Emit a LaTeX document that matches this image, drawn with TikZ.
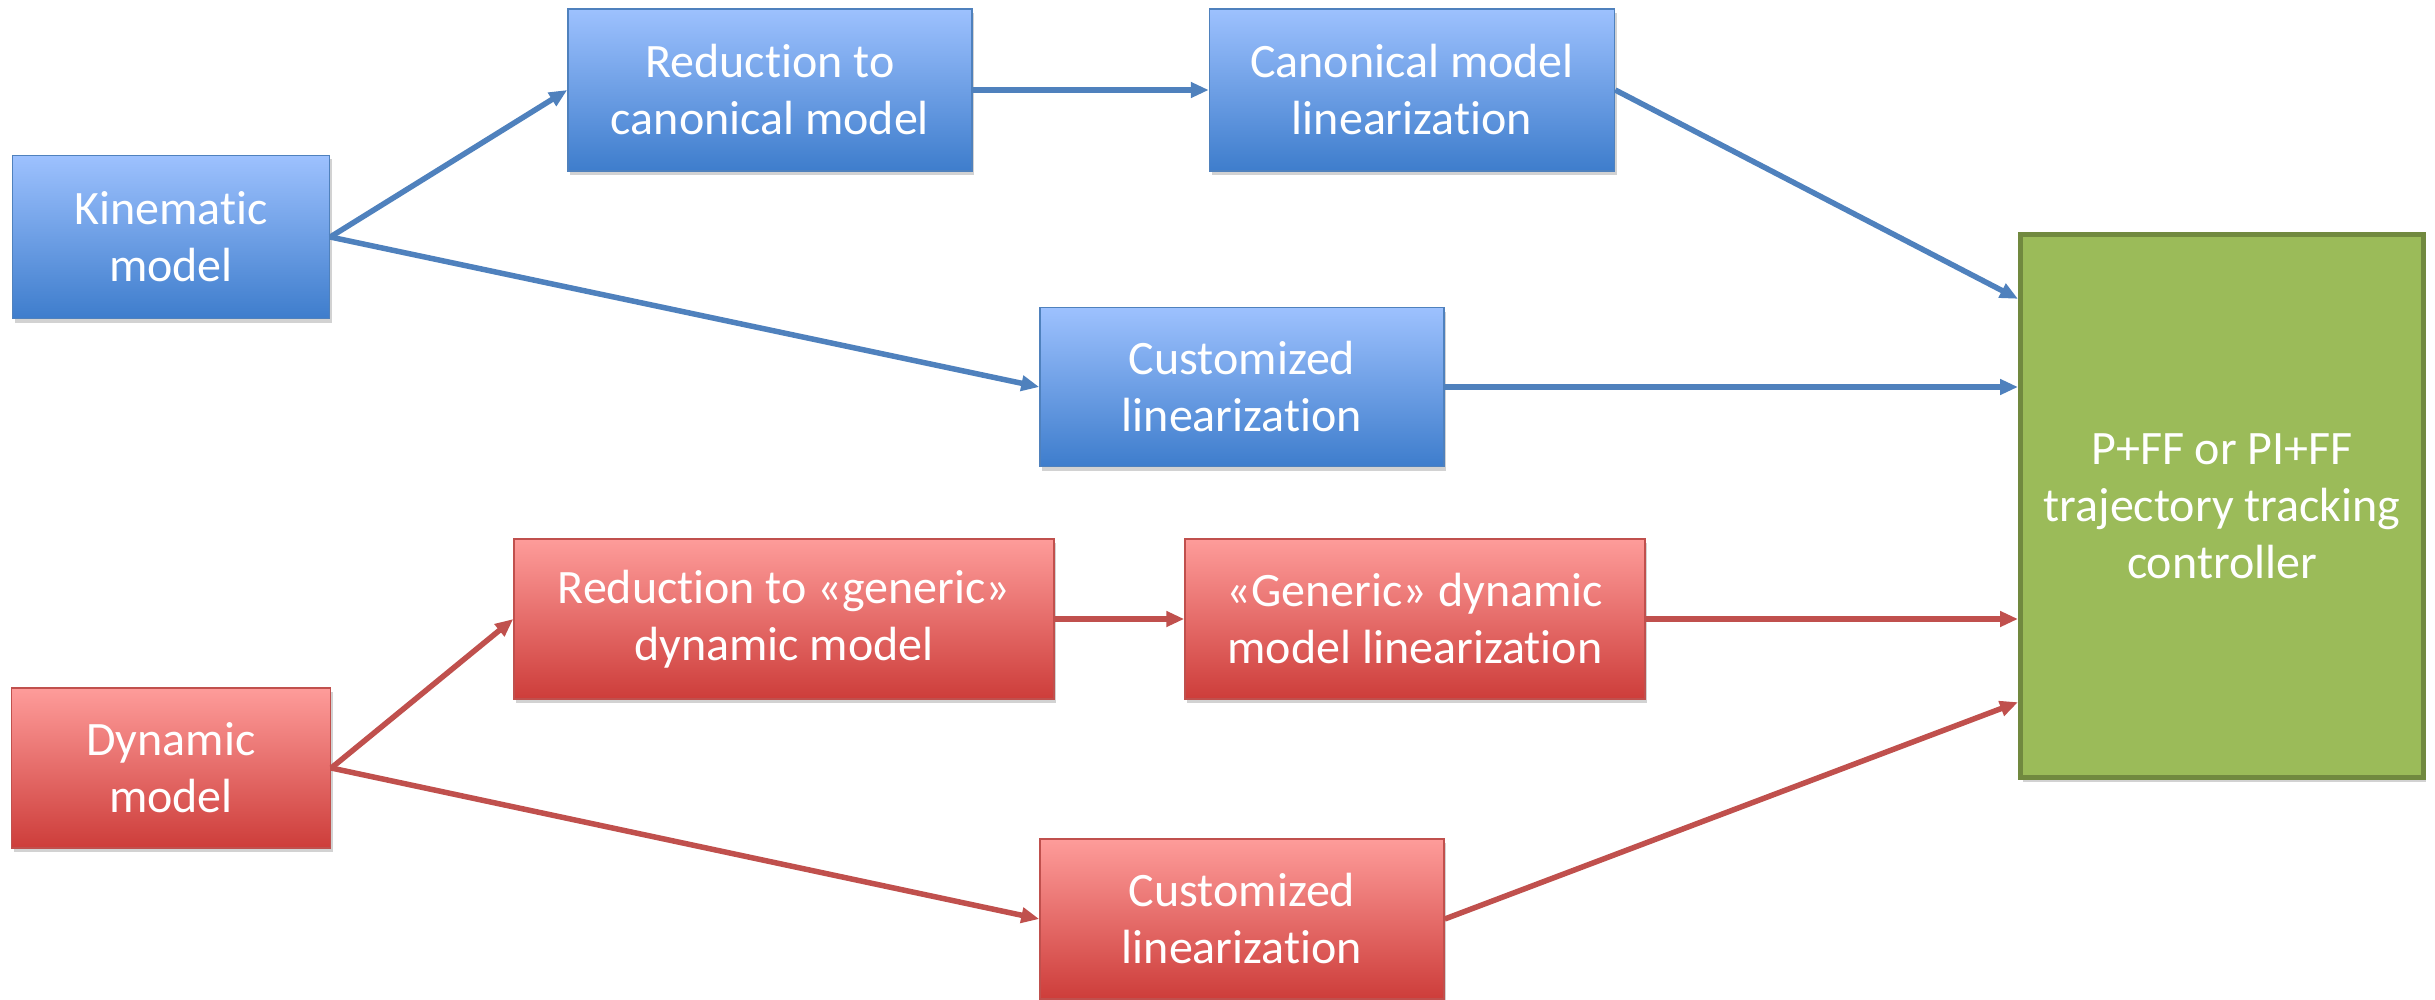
\documentclass[tikz,border=0pt]{standalone}
\usepackage{fontspec}
\setmainfont{Carlito}[Ligatures=NoCommon]
\usetikzlibrary{arrows.meta,shadows,calc}
\definecolor{bluetop}{HTML}{9DC1FE}
\definecolor{bluebot}{HTML}{3E7DCC}
\definecolor{blueline}{HTML}{4F81BD}
\definecolor{redtop}{HTML}{FE9C9A}
\definecolor{redbot}{HTML}{CD3D3A}
\definecolor{redline}{HTML}{C0504D}
\definecolor{greenfill}{HTML}{9BBB59}
\definecolor{greenline}{HTML}{71893F}
\tikzset{
  box/.style={rectangle, inner sep=0pt, align=center, text=white,
    font=\fontsize{48}{57}\selectfont,
    drop shadow={opacity=0.35, shadow xshift=2pt, shadow yshift=-4pt}},
  bluebox/.style={box, top color=bluetop, bottom color=bluebot, draw=blueline, line width=1.5pt},
  redbox/.style={box, top color=redtop, bottom color=redbot, draw=redline, line width=1.5pt},
  greenbox/.style={box, fill=greenfill, draw=greenline, line width=5pt},
  bluearrow/.style={draw=blueline, line width=5.5pt, -{Triangle[length=18pt,width=15pt]}},
  redarrow/.style={draw=redline, line width=5.5pt, -{Triangle[length=18pt,width=15pt]}},
}
\begin{document}
\begin{tikzpicture}[x=1pt,y=-1pt]
\useasboundingbox (0,0) rectangle (2435,1000);
\fill[white] (0,0) rectangle (2435,1000);
% nodes
\node[bluebox, minimum width=317pt, minimum height=163pt] (kin) at (171,237) {Kinematic\\model};
\node[bluebox, minimum width=404pt, minimum height=162pt] (red1) at (770,90) {Reduction to\\canonical model};
\node[bluebox, minimum width=405pt, minimum height=162pt] (canlin) at (1412,90) {Canonical model\\linearization};
\node[bluebox, minimum width=404pt, minimum height=159pt] (cust1) at (1242,387) {Customized\\linearization};
\node[greenbox, minimum width=403pt, minimum height=543pt] (ctrl) at (2222,506) {P+FF or PI+FF\\trajectory tracking\\controller};
\node[redbox, minimum width=319pt, minimum height=160pt] (dyn) at (171,768) {Dynamic\\model};
\node[redbox, minimum width=540pt, minimum height=160pt] (red2) at (784,619) {Reduction to «generic»\\dynamic model};
\node[redbox, minimum width=460pt, minimum height=160pt] (genlin) at (1415,619) {«Generic» dynamic\\model linearization};
\node[redbox, minimum width=404pt, minimum height=160pt] (cust2) at (1242,919) {Customized\\linearization};
% connectors
\draw[bluearrow] (kin.east) -- (red1.west);
\draw[bluearrow] (kin.east) -- (cust1.west);
\draw[bluearrow] (red1.east) -- (canlin.west);
\draw[bluearrow] (canlin.east) -- ($(ctrl.north west)!0.122!(ctrl.south west)$);
\draw[bluearrow] (cust1.east) -- (cust1.east -| ctrl.west);
\draw[redarrow] (dyn.east) -- (red2.west);
\draw[redarrow] (dyn.east) -- (cust2.west);
\draw[redarrow] (red2.east) -- (genlin.west);
\draw[redarrow] (genlin.east) -- (genlin.east -| ctrl.west);
\draw[redarrow] (cust2.east) -- ($(ctrl.north west)!0.858!(ctrl.south west)$);
\end{tikzpicture}
\end{document}
